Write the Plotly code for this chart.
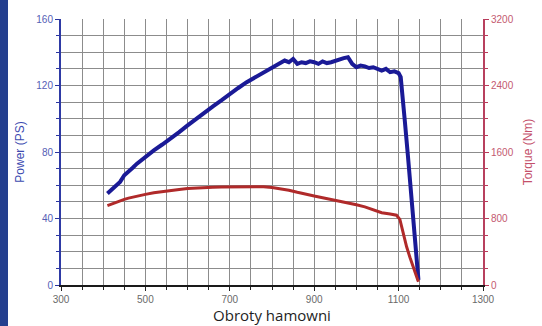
import plotly.graph_objects as go

# ---- data ----
rpm_power = [410, 420, 430, 440, 450, 460, 470, 480, 490, 500, 520, 540, 560, 580, 600,
             620, 640, 660, 680, 700, 720, 740, 760, 780, 800, 820, 830, 840, 850, 860,
             870, 880, 890, 900, 910, 920, 930, 940, 950, 960, 970, 980, 990, 1000, 1010,
             1020, 1030, 1040, 1050, 1060, 1070, 1080, 1090, 1100, 1105, 1110, 1115, 1122,
             1130, 1137, 1143, 1147]
power_ps = [55, 57.5, 59.5, 62, 66, 68, 70.5, 73, 75, 77.5, 81, 84.5, 88, 92, 96,
            100, 104, 107.5, 111, 115, 118.5, 122, 125, 128, 131, 133.5, 135, 134, 136, 133,
            134, 133.5, 134.5, 134, 133, 134.5, 133.5, 134, 135, 135.5, 136.5, 137, 133, 131, 132,
            131.5, 130.5, 131, 130, 129, 130, 128, 128.5, 127.5, 125, 113, 98, 78,
            54, 34, 14, 3]

rpm_torque = [410, 420, 430, 440, 450, 460, 480, 500, 520, 540, 560, 580, 600, 620, 640,
              660, 680, 700, 720, 740, 760, 780, 800, 820, 840, 860, 880, 900, 920, 940,
              960, 980, 1000, 1020, 1040, 1050, 1060, 1080, 1095, 1103, 1110, 1119, 1127,
              1134, 1140, 1144, 1147]
torque_nm = [955, 975, 995, 1015, 1030, 1045, 1070, 1090, 1110, 1125, 1140, 1150, 1160, 1168, 1172,
             1176, 1180, 1182, 1180, 1185, 1188, 1182, 1172, 1160, 1140, 1115, 1090, 1070, 1050, 1030,
             1010, 990, 965, 940, 905, 885, 870, 855, 840, 790, 640, 460, 330,
             215, 130, 80, 40]

x_ticks = [300, 500, 700, 900, 1100, 1300]
power_ticks = [0, 40, 80, 120, 160]
torque_ticks = [0, 800, 1600, 2400, 3200]

fig = go.Figure()
fig.add_trace(go.Scatter(x=rpm_torque, y=torque_nm, yaxis="y2", mode="lines",
                         line=dict(color="#b02a2a", width=3), showlegend=False))
fig.add_trace(go.Scatter(x=rpm_power, y=power_ps, mode="lines",
                         line=dict(color="#1a1a96", width=4), showlegend=False))

tickfont = dict(family="Liberation Sans Narrow, Liberation Sans, Arial, sans-serif", size=10, color="#6a6a6a")
grid_c = "#8c8c8c"

fig.update_layout(
    width=542, height=326,
    margin=dict(l=61, r=59, t=19, b=41, autoexpand=False),
    paper_bgcolor="white", plot_bgcolor="white",
    xaxis=dict(range=[300, 1300], tickvals=x_ticks, tickfont=tickfont, automargin=False,
               showgrid=True, gridcolor=grid_c, gridwidth=1,
               minor=dict(dtick=50, tick0=300, showgrid=True, gridcolor=grid_c, gridwidth=1,
                          ticks="outside", ticklen=3, tickcolor="#222"),
               ticks="outside", ticklen=4, tickcolor="#222",
               showline=True, linecolor="#1a1a1a", linewidth=2,
               zeroline=False,
               title=dict(text="Obroty hamowni", standoff=3,
                          font=dict(family="Open Sans, Noto Sans, sans-serif", size=15, color="#1e1e1e"))),
    yaxis=dict(range=[0, 160], tickvals=power_ticks, tickfont=dict(tickfont, color="#5560b5"),
               automargin=False,
               showgrid=True, gridcolor=grid_c, gridwidth=1,
               minor=dict(dtick=10, tick0=0, showgrid=True, gridcolor=grid_c, gridwidth=1,
                          ticks="outside", ticklen=3, tickcolor="#2a35a0"),
               ticks="outside", ticklen=4, tickcolor="#2a35a0",
               showline=True, linecolor="#2e3aa5", linewidth=2, zeroline=False,
               title=dict(text="Power (PS)", standoff=9,
                          font=dict(family="Liberation Sans, Arial, sans-serif", size=12, color="#3d4bb0"))),
    yaxis2=dict(range=[0, 3200], tickvals=torque_ticks, overlaying="y", side="right",
                tickfont=dict(tickfont, color="#c45a70"), automargin=False,
                showgrid=False, zeroline=False,
                minor=dict(dtick=200, tick0=0, ticks="outside", ticklen=3, tickcolor="#b83a5a"),
                ticks="outside", ticklen=4, tickcolor="#b83a5a",
                showline=True, linecolor="#b8405e", linewidth=2,
                title=dict(text="Torque (Nm)", standoff=11,
                           font=dict(family="Liberation Sans, Arial, sans-serif", size=12, color="#c4506a"))),
    shapes=[dict(type="rect", xref="paper", yref="paper",
                 x0=-61 / 422, x1=-53 / 422, y0=-41 / 266, y1=1 + 19 / 266,
                 fillcolor="#243f8e", line=dict(width=0), layer="above")],
)

fig.write_html("out.html", config={"displayModeBar": False},
               post_script="document.body.style.margin='0';document.body.style.padding='0';")
